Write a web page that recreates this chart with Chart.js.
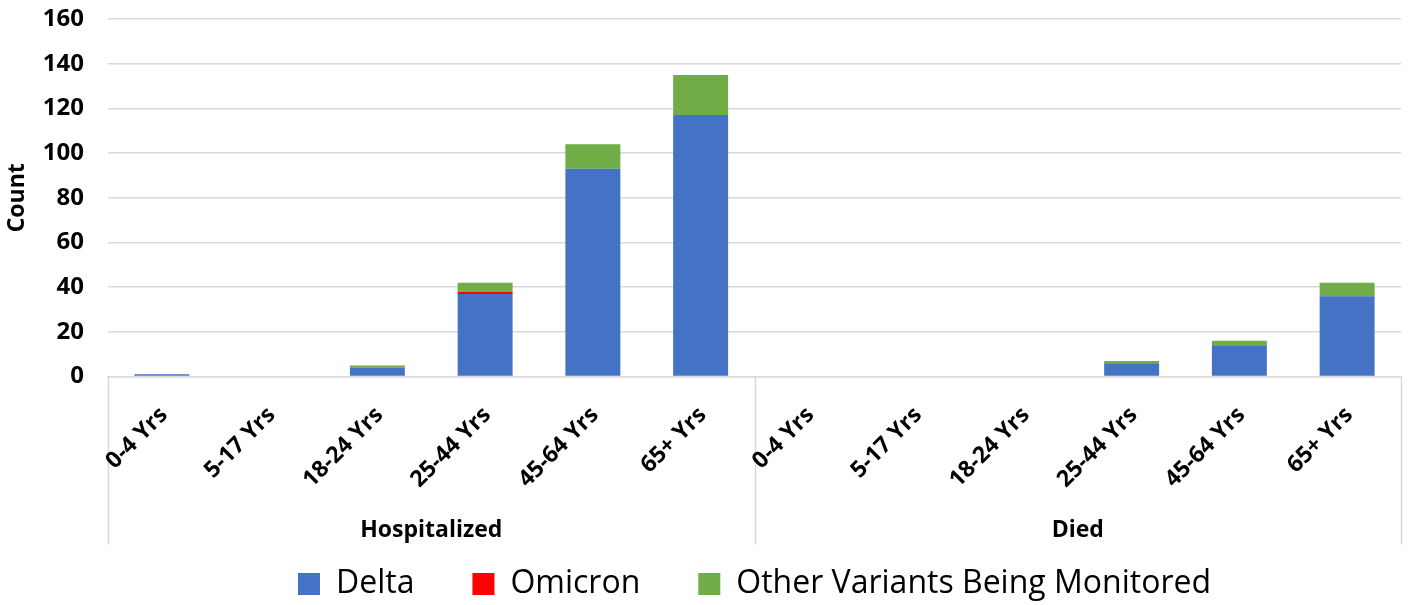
<!DOCTYPE html>
<html>
<head>
<meta charset="utf-8">
<script src="https://cdn.jsdelivr.net/npm/chart.js@4.4.1/dist/chart.umd.min.js"></script>
<style>
  html, body { margin: 0; padding: 0; background: #fff; }
  #wrap { width: 1408px; height: 605px; }
</style>
</head>
<body>
<div id="wrap"><canvas id="chart" width="1408" height="605"></canvas></div>
<script>
// datos
const ageGroups = ["0-4 Yrs", "5-17 Yrs", "18-24 Yrs", "25-44 Yrs", "45-64 Yrs", "65+ Yrs"];
const outcomes = ["Hospitalized", "Died"];
const labels = outcomes.flatMap(() => ageGroups);

const delta = [1, 0, 4, 37, 93, 117, 0, 0, 0, 6, 14, 36];
const omicron = [0, 0, 0, 1, 0, 0, 0, 0, 0, 0, 0, 0];
const otherVariants = [0, 0, 1, 4, 11, 18, 0, 0, 0, 1, 2, 6];

const yTicks = [0, 20, 40, 60, 80, 100, 120, 140, 160];

const FONT = "'Open Sans', 'Liberation Sans', sans-serif";
const lineColor = "#d9d9d9";

// líneas separadoras de grupos debajo del eje x (debajo de las etiquetas)
const groupLines = {
    id: "groupLines",
    beforeDraw(chart) {
        const x = chart.scales.x;
        const ctx = chart.ctx;
        const per = ageGroups.length;
        const xs = [x.left, x.right];
        for (let g = 1; g < outcomes.length; g++) {
            xs.push((x.getPixelForValue(g * per - 1) + x.getPixelForValue(g * per)) / 2);
        }
        ctx.save();
        ctx.strokeStyle = lineColor;
        ctx.lineWidth = 1.5;
        xs.forEach((px) => {
            ctx.beginPath();
            ctx.moveTo(Math.round(px) + 0.5, chart.chartArea.bottom);
            ctx.lineTo(Math.round(px) + 0.5, chart.scales.x2.bottom);
            ctx.stroke();
        });
        ctx.restore();
    },
};

new Chart(document.getElementById("chart"), {
    type: "bar",
    data: {
        labels: labels,
        datasets: [
            { label: "Delta", data: delta, backgroundColor: "#4472c4" },
            { label: "Omicron", data: omicron, backgroundColor: "#ff0000" },
            { label: "Other Variants Being Monitored", data: otherVariants, backgroundColor: "#70ad47" },
        ],
    },
    options: {
        responsive: false,
        animation: false,
        layout: { padding: { top: 0, right: 7, left: 4, bottom: -5 } },
        datasets: {
            bar: { categoryPercentage: 1.0, barPercentage: 0.51 },
        },
        scales: {
            x: {
                stacked: true,
                grid: { display: false },
                border: { display: true, color: lineColor, width: 1.5 },
                ticks: {
                    minRotation: 45,
                    maxRotation: 45,
                    autoSkip: false,
                    color: "#000",
                    labelOffset: 2,
                    padding: 17,
                    font: { family: FONT, size: 23, weight: "bold" },
                },
                afterFit: (axis) => {
                    axis.height = 128;
                },
            },
            x2: {
                type: "category",
                labels: outcomes,
                position: "bottom",
                grid: { display: false, drawTicks: false },
                border: { display: false },
                ticks: {
                    color: "#000",
                    padding: 12,
                    font: { family: FONT, size: 23, weight: "bold" },
                },
                afterFit: (axis) => {
                    axis.height = 40;
                },
            },
            y: {
                stacked: true,
                min: 0,
                max: yTicks[yTicks.length - 1],
                afterBuildTicks: (axis) => {
                    axis.ticks = yTicks.map((v) => ({ value: v }));
                },
                afterFit: (axis) => {
                    axis.width = 104;
                    axis.paddingTop = 19;
                    axis.paddingBottom = 0;
                },
                grid: { color: lineColor, lineWidth: 1.5, drawTicks: false },
                border: { display: false },
                ticks: {
                    color: "#000",
                    padding: 24,
                    font: { family: FONT, size: 24, weight: "bold" },
                },
                title: {
                    display: true,
                    text: "Count",
                    color: "#000",
                    padding: { top: 0, bottom: 6 },
                    font: { family: FONT, size: 23, weight: "bold" },
                },
            },
        },
        plugins: {
            legend: {
                position: "bottom",
                fullSize: false,
                title: { display: true, text: "", padding: { top: -49, bottom: 0 } },
                labels: {
                    color: "#000",
                    boxWidth: 22,
                    boxHeight: 22,
                    padding: 58,
                    font: { family: FONT, size: 32 },
                },
            },
            tooltip: { enabled: false },
        },
    },
    plugins: [groupLines],
});
</script>
</body>
</html>
